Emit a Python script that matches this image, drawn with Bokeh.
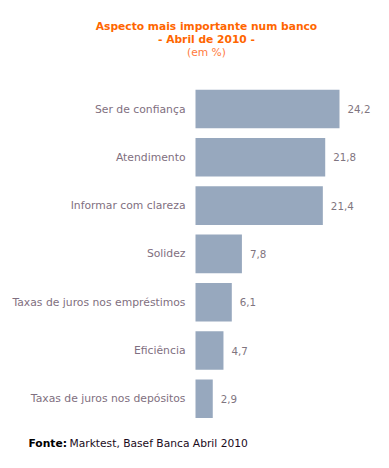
from bokeh.plotting import figure
from bokeh.models import ColumnDataSource, Range1d, Label
from bokeh.core.properties import value
from bokeh.embed import file_html
from bokeh.resources import INLINE

# ---- data ----
categories = ["Ser de confiança", "Atendimento", "Informar com clareza", "Solidez",
              "Taxas de juros nos empréstimos", "Eficiência", "Taxas de juros nos depósitos"]
values = [24.2, 21.8, 21.4, 7.8, 6.1, 4.7, 2.9]
value_labels = ["24,2", "21,8", "21,4", "7,8", "6,1", "4,7", "2,9"]
title_line1 = "Aspecto mais importante num banco"
title_line2 = "- Abril de 2010 -"
title_line3 = "(em %)"
source_bold = "Fonte:"
source_text = "Marktest, Basef Banca Abril 2010"

W, H = 373, 452
px_per_unit = 144 / 24.2
bar_left_px = 195           # canvas x where value 0 sits
row_px = 48.3               # row pitch
first_row_px = 108.5        # canvas y of first row centre

rows = list(range(len(categories)))
src = ColumnDataSource(dict(cat=categories, val=values, lab=value_labels, row=rows,
                            zero=[0] * len(values)))

p = figure(width=W, height=H, output_backend="svg", toolbar_location=None,
           x_axis_type=None, y_axis_type=None, min_border=0,
           x_range=Range1d(-bar_left_px / px_per_unit, (W - bar_left_px) / px_per_unit),
           y_range=Range1d((H - first_row_px) / row_px, -first_row_px / row_px))
p.outline_line_color = None
p.grid.visible = False
p.background_fill_color = "white"
p.border_fill_color = "white"

p.hbar(y="row", left="zero", right="val", height=0.8, source=src,
       fill_color="#97A8BE", line_color=None)

font = value("DejaVu Sans")
p.text(x="zero", y="row", text="cat", source=src, x_offset=-10,
       text_align="right", text_baseline="middle", text_font=font,
       text_font_size="10.8px", text_color="#7F6F80")
p.text(x="val", y="row", text="lab", source=src, x_offset=8,
       text_align="left", text_baseline="middle", text_font=font,
       text_font_size="10.3px", text_color="#7F7580")

cx = 206
p.add_layout(Label(x=cx, y=H - 26, x_units="screen", y_units="screen", text=title_line1,
                   text_align="center", text_baseline="middle", text_font="DejaVu Sans",
                   text_font_style="bold", text_font_size="10.7px", text_color="#FF6600"))
p.add_layout(Label(x=cx, y=H - 39, x_units="screen", y_units="screen", text=title_line2,
                   text_align="center", text_baseline="middle", text_font="DejaVu Sans",
                   text_font_style="bold", text_font_size="10.7px", text_color="#FF6600"))
p.add_layout(Label(x=cx, y=H - 52, x_units="screen", y_units="screen", text=title_line3,
                   text_align="center", text_baseline="middle", text_font="DejaVu Sans",
                   text_font_size="10.7px", text_color="#FF7A3C"))
p.add_layout(Label(x=28, y=H - 443, x_units="screen", y_units="screen", text=source_bold,
                   text_align="left", text_baseline="middle", text_font="DejaVu Sans",
                   text_font_style="bold", text_font_size="10.7px", text_color="#000000"))
p.add_layout(Label(x=69, y=H - 443, x_units="screen", y_units="screen", text=source_text,
                   text_align="left", text_baseline="middle", text_font="DejaVu Sans",
                   text_font_size="10.7px", text_color="#1A0A1A"))

open("out.html", "w").write(file_html(p, INLINE))
